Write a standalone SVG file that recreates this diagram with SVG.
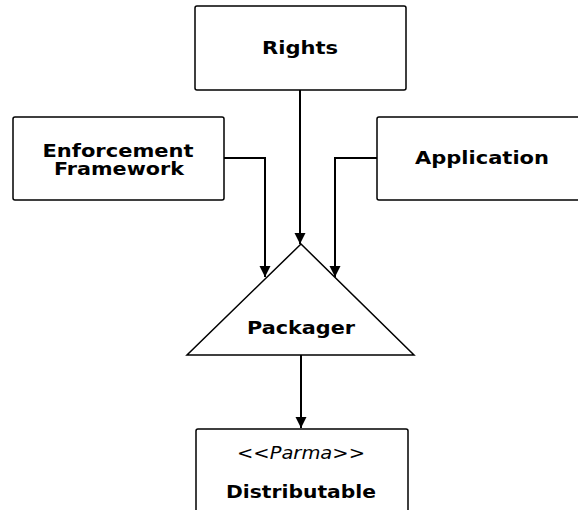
<svg xmlns="http://www.w3.org/2000/svg" width="578" height="510" viewBox="0 0 578 510">
  <style>
    .box { fill: #ffffff; stroke: #000000; stroke-width: 1.5; }
    .wire { fill: none; stroke: #000000; stroke-width: 2; }
    .lbl { font-family: "DejaVu Sans", Verdana, sans-serif; font-weight: bold; font-size: 18px; fill: #000000; text-anchor: middle; }
    .stereo { font-family: "DejaVu Sans", Verdana, sans-serif; font-style: italic; font-size: 18px; fill: #000000; text-anchor: middle; }
  </style>
  <defs>
    <marker id="arrow" markerUnits="userSpaceOnUse" markerWidth="13" markerHeight="13" refX="11" refY="5.5" orient="auto">
      <path d="M0,0 L11,5.5 L0,11 Z" fill="#000000"/>
    </marker>
  </defs>
  <rect width="578" height="510" fill="#ffffff"/>

  <g id="connectors">
    <path class="wire" d="M300,90 L300,244" marker-end="url(#arrow)"/>
    <path class="wire" d="M224,158 L265,158 L265,277" marker-end="url(#arrow)"/>
    <path class="wire" d="M377,158 L335,158 L335,277" marker-end="url(#arrow)"/>
    <path class="wire" d="M301,355 L301,428" marker-end="url(#arrow)"/>
  </g>

  <g id="rights">
    <rect class="box" x="195" y="6" width="211" height="84" rx="2"/>
    <text class="lbl" x="300" y="54" textLength="76" lengthAdjust="spacingAndGlyphs">Rights</text>
  </g>

  <g id="enforcement-framework">
    <rect class="box" x="13" y="117" width="211" height="83" rx="2"/>
    <text class="lbl" x="118" y="157" textLength="151" lengthAdjust="spacingAndGlyphs">Enforcement</text>
    <text class="lbl" x="119" y="175" textLength="130" lengthAdjust="spacingAndGlyphs">Framework</text>
  </g>

  <g id="application">
    <rect class="box" x="377" y="117" width="210" height="83" rx="2"/>
    <text class="lbl" x="482" y="164" textLength="134" lengthAdjust="spacingAndGlyphs">Application</text>
  </g>

  <g id="packager">
    <polygon class="box" points="301,244 414,355 187,355"/>
    <text class="lbl" x="301" y="334" textLength="108" lengthAdjust="spacingAndGlyphs">Packager</text>
  </g>

  <g id="distributable">
    <rect class="box" x="196" y="429" width="212" height="95" rx="2"/>
    <text class="stereo" x="301" y="459" textLength="128" lengthAdjust="spacingAndGlyphs">&lt;&lt;Parma&gt;&gt;</text>
    <text class="lbl" x="301" y="498" textLength="150" lengthAdjust="spacingAndGlyphs">Distributable</text>
  </g>
</svg>
